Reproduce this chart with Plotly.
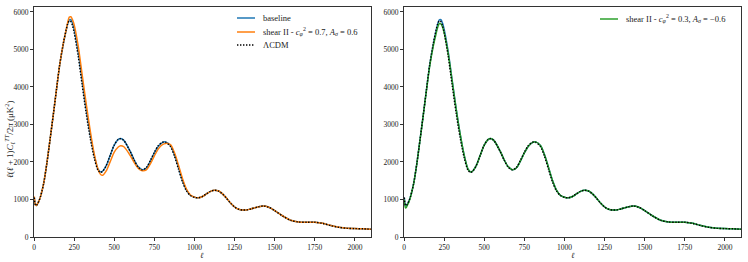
import plotly.graph_objects as go

ell = [2, 5, 10, 15, 20, 30, 40, 50, 60, 80, 100, 120, 140, 160, 183, 200, 210, 220, 230, 240, 250,
       275, 300, 325, 350, 375, 400, 415, 430, 450, 475, 500, 525, 540, 560, 600, 625, 650, 675, 700,
       725, 750, 775, 800, 820, 850, 875, 900, 925, 950, 975, 1000, 1025, 1050, 1075, 1100, 1125, 1150,
       1175, 1200, 1225, 1250, 1275, 1300, 1325, 1350, 1400, 1430, 1460, 1500, 1550, 1600, 1650, 1700,
       1750, 1800, 1850, 1900, 1950, 2000, 2050, 2100]

baseline = [1050, 920, 845, 840, 870, 950, 1070, 1230, 1420, 1960, 2600, 3250, 3930, 4580, 5150, 5500, 5680,
            5790, 5790, 5700, 5540, 4950, 4180, 3420, 2740, 2180, 1800, 1735, 1765, 1900, 2180, 2450, 2600,
            2625, 2575, 2280, 2050, 1870, 1795, 1840, 2020, 2240, 2420, 2515, 2535, 2440, 2200, 1860, 1510,
            1250, 1110, 1060, 1045, 1080, 1150, 1215, 1245, 1225, 1150, 1035, 905, 800, 740, 720, 722, 745,
            805, 825, 800, 705, 560, 445, 400, 393, 395, 365, 305, 258, 232, 224, 218, 208]

shear_07 = [1080, 940, 850, 840, 870, 950, 1070, 1230, 1420, 1960, 2600, 3250, 3930, 4590, 5170, 5510, 5720,
            5860, 5870, 5790, 5660, 5100, 4330, 3560, 2840, 2220, 1790, 1665, 1650, 1760, 2010, 2260, 2400,
            2435, 2405, 2170, 1980, 1830, 1765, 1790, 1950, 2160, 2350, 2460, 2495, 2460, 2250, 1920, 1560,
            1280, 1120, 1062, 1045, 1080, 1150, 1215, 1245, 1225, 1150, 1035, 905, 800, 740, 720, 722, 745,
            805, 825, 800, 705, 560, 445, 400, 393, 395, 365, 305, 258, 232, 224, 218, 208]

lcdm = [1050, 920, 845, 840, 870, 950, 1070, 1230, 1420, 1960, 2600, 3250, 3930, 4590, 5170, 5520, 5680,
        5760, 5740, 5630, 5450, 4830, 4050, 3300, 2640, 2110, 1770, 1720, 1760, 1900, 2180, 2450, 2600,
        2620, 2570, 2270, 2040, 1860, 1790, 1850, 2040, 2260, 2440, 2525, 2525, 2410, 2160, 1810, 1470,
        1230, 1105, 1058, 1045, 1082, 1152, 1218, 1245, 1222, 1145, 1030, 900, 797, 740, 720, 723, 747,
        807, 825, 798, 702, 557, 443, 400, 394, 394, 362, 302, 256, 231, 224, 218, 208]

shear_03 = [1000, 850, 770, 790, 840, 930, 1060, 1225, 1415, 1950, 2590, 3240, 3910, 4550, 5100, 5420, 5590,
            5690, 5680, 5600, 5450, 4900, 4160, 3410, 2740, 2180, 1800, 1735, 1765, 1900, 2180, 2450, 2600,
            2625, 2575, 2280, 2050, 1870, 1795, 1840, 2020, 2240, 2420, 2515, 2535, 2440, 2200, 1860, 1510,
            1250, 1110, 1060, 1045, 1080, 1150, 1215, 1245, 1225, 1150, 1035, 905, 800, 740, 720, 722, 745,
            805, 825, 800, 705, 560, 445, 400, 393, 395, 365, 305, 258, 232, 224, 218, 208]

x_ticks = [0, 250, 500, 750, 1000, 1250, 1500, 1750, 2000]
y_ticks = [0, 1000, 2000, 3000, 4000, 5000, 6000]

lab_base = "baseline"
lab_s07 = "shear II - <i>c</i><sub><i>φ</i></sub><sup>2</sup> = 0.7, <i>A</i><sub><i>σ</i></sub> = 0.6"
lab_lcdm = "ΛCDM"
lab_s03 = "shear II - <i>c</i><sub><i>φ</i></sub><sup>2</sup> = 0.3, <i>A</i><sub><i>σ</i></sub> = −0.6"
ylab = "<i>ℓ</i>(<i>ℓ</i> + 1)<i>C</i><sub><i>ℓ</i></sub><sup><i>TT</i></sup>/2<i>π</i> (μK<sup>2</sup>)"

BLUE, ORANGE, GREEN = "#1f77b4", "#ff7f0e", "#2ca02c"
FONT = "Liberation Serif"
TXT = "#222222"
DOT = "1.4px,1.6px"

W, H = 748, 262
fig = go.Figure()
sp = dict(mode="lines", line_shape="spline", showlegend=False)
fig.add_trace(go.Scatter(x=ell, y=baseline, name=lab_base, line=dict(color=BLUE, width=1.5, smoothing=0.8),
                         xaxis="x", yaxis="y", **sp))
fig.add_trace(go.Scatter(x=ell, y=shear_07, name=lab_s07, line=dict(color=ORANGE, width=1.5, smoothing=0.8),
                         xaxis="x", yaxis="y", **sp))
fig.add_trace(go.Scatter(x=ell, y=lcdm, name=lab_lcdm, line=dict(color="black", width=1.4, dash=DOT, smoothing=0.8),
                         xaxis="x", yaxis="y", **sp))
fig.add_trace(go.Scatter(x=ell, y=baseline, name=lab_base,
                         line=dict(color=BLUE, width=1.5, smoothing=0.8), xaxis="x2", yaxis="y2", **sp))
fig.add_trace(go.Scatter(x=ell, y=shear_03, name=lab_s03, line=dict(color=GREEN, width=1.5, smoothing=0.8),
                         xaxis="x2", yaxis="y2", **sp))
fig.add_trace(go.Scatter(x=ell, y=lcdm, name=lab_lcdm,
                         line=dict(color="black", width=1.4, dash=DOT, smoothing=0.8), xaxis="x2", yaxis="y2", **sp))

ax_common = dict(showline=True, linecolor="#333333", linewidth=1, mirror=True, showgrid=False, zeroline=False,
                 ticks="outside", ticklen=3, tickwidth=0.8, tickcolor="#333333", automargin=False,
                 tickfont=dict(family=FONT, size=7.5, color=TXT))
xdom1 = [34 / W, 371 / W]
xdom2 = [404 / W, 741 / W]
ydom = [(H - 237) / H, (H - 7) / H]

def legend_entry(x0, x1, ypx, color, dash, text):
    yp = (H - ypx) / H
    fig.add_shape(type="line", xref="paper", yref="paper", x0=x0 / W, x1=x1 / W, y0=yp, y1=yp,
                  line=dict(color=color, width=1.5 if dash == "solid" else 1.4, dash=dash))
    fig.add_annotation(xref="paper", yref="paper", x=(x1 + 6) / W, y=yp, xanchor="left", yanchor="middle",
                       text=text, showarrow=False, font=dict(family=FONT, size=8.5, color=TXT))

legend_entry(237, 255, 18, BLUE, "solid", lab_base)
legend_entry(237, 255, 32, ORANGE, "solid", lab_s07)
legend_entry(237, 255, 45, "black", DOT, lab_lcdm)
legend_entry(600, 618, 19, GREEN, "solid", lab_s03)

fig.add_annotation(xref="paper", yref="paper", x=9 / W, y=(H - 139) / H, text=ylab, textangle=-90,
                   showarrow=False, xanchor="center", yanchor="middle", font=dict(family=FONT, size=9, color=TXT))
for xc in [(xdom1[0] + xdom1[1]) / 2, (xdom2[0] + xdom2[1]) / 2]:
    fig.add_annotation(xref="paper", yref="paper", x=xc, y=(H - 255) / H, text="<i>ℓ</i>",
                       showarrow=False, xanchor="center", yanchor="middle", font=dict(family=FONT, size=8, color=TXT))

fig.update_layout(
    template="none",
    width=W, height=H, margin=dict(l=0, r=0, t=0, b=0),
    paper_bgcolor="white", plot_bgcolor="white",
    font=dict(family=FONT, color=TXT),
    xaxis=dict(domain=xdom1, range=[0, 2100], tickvals=x_ticks, anchor="y", **ax_common),
    yaxis=dict(domain=ydom, range=[0, 6130], tickvals=y_ticks, anchor="x", **ax_common),
    xaxis2=dict(domain=xdom2, range=[0, 2100], tickvals=x_ticks, anchor="y2", **ax_common),
    yaxis2=dict(domain=ydom, range=[0, 6130], tickvals=y_ticks, anchor="x2", **ax_common),
    showlegend=False,
)

fig.write_html("out.html", config={"displayModeBar": False},
               post_script="document.body.style.margin='0';document.body.style.padding='0';")
